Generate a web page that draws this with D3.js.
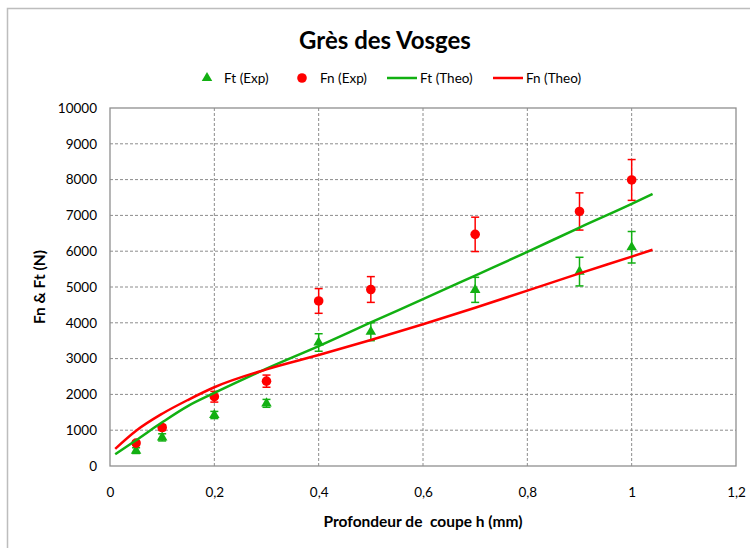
<!DOCTYPE html>
<html>
<head>
<meta charset="utf-8">
<script src="https://cdn.jsdelivr.net/npm/d3@7/dist/d3.min.js"></script>
<style>
  body { margin: 0; background: #fff; }
  svg { display: block; }
  text { font-family: Lato, "Open Sans", "Noto Sans", sans-serif; fill: #000; }
</style>
</head>
<body>
<svg id="chart" width="750" height="548"></svg>
<script>
// Experimental cutting forces (N) versus depth of cut h (mm), with error bars
const depthExp = [0.05, 0.1, 0.2, 0.3, 0.4, 0.5, 0.7, 0.9, 1.0];
const ftExp = [430, 800, 1425, 1750, 3450, 3750, 4920, 5430, 6110];
const ftErr = [80, 100, 100, 110, 245, 250, 350, 400, 440];
const fnExp = [640, 1075, 1935, 2370, 4610, 4930, 6470, 7110, 7990];
const fnErr = [60, 80, 150, 170, 345, 360, 480, 520, 570];

// Theoretical model curves
const depthTheo = [0.01, 0.05, 0.1, 0.15, 0.2, 0.3, 0.4, 0.5, 0.6, 0.7, 0.8, 0.9, 1.0, 1.04];
const ftTheo = [330, 720, 1220, 1680, 2040, 2720, 3350, 4010, 4660, 5320, 5980, 6660, 7320, 7600];
const fnTheo = [480, 985, 1460, 1850, 2200, 2700, 3100, 3520, 3960, 4420, 4900, 5380, 5850, 6040];

// Axis ticks
const xTicks = [0, 0.2, 0.4, 0.6, 0.8, 1, 1.2];
const yTicks = [0, 1000, 2000, 3000, 4000, 5000, 6000, 7000, 8000, 9000, 10000];

const GREEN = "#12b012";
const RED = "#ff0000";
const GRID = "#8c8c8c";

const svg = d3.select("#chart");

// outer chart frame
svg.append("rect")
  .attr("x", 7.5).attr("y", 8.5)
  .attr("width", 800).attr("height", 600)
  .attr("fill", "#fff")
  .attr("stroke", "#bdbdbd")
  .attr("stroke-width", 1.5);

const plot = { left: 110, right: 736, top: 108, bottom: 466 };

const x = d3.scaleLinear().domain([0, 1.2]).range([plot.left, plot.right]);
const y = d3.scaleLinear().domain([0, 10000]).range([plot.bottom, plot.top]);

const fmtX = d => d3.format("")(d).replace(".", ",");

// grid lines
const grid = svg.append("g");
grid.selectAll("line.v")
  .data(xTicks.filter(d => d > 0 && d < 1.2))
  .join("line")
  .attr("x1", d => x(d)).attr("x2", d => x(d))
  .attr("y1", plot.top).attr("y2", plot.bottom)
  .attr("stroke", GRID).attr("stroke-width", 1)
  .attr("stroke-dasharray", "3,2");
grid.selectAll("line.h")
  .data(yTicks.filter(d => d > 0 && d < 10000))
  .join("line")
  .attr("x1", plot.left).attr("x2", plot.right)
  .attr("y1", d => y(d)).attr("y2", d => y(d))
  .attr("stroke", GRID).attr("stroke-width", 1)
  .attr("stroke-dasharray", "3,2");

// plot area border
svg.append("rect")
  .attr("x", plot.left).attr("y", plot.top)
  .attr("width", plot.right - plot.left)
  .attr("height", plot.bottom - plot.top)
  .attr("fill", "none")
  .attr("stroke", "#8f8f8f")
  .attr("stroke-width", 1.3);

// axes
const xAxis = svg.append("g")
  .attr("transform", `translate(0,${plot.bottom})`)
  .call(d3.axisBottom(x).tickValues(xTicks).tickFormat(fmtX).tickSize(0).tickPadding(21));
const yAxis = svg.append("g")
  .attr("transform", `translate(${plot.left},0)`)
  .call(d3.axisLeft(y).tickValues(yTicks).tickFormat(d3.format("d")).tickSize(0).tickPadding(13));
[xAxis, yAxis].forEach(a => {
  a.select(".domain").remove();
  a.selectAll("text")
    .style("font-family", "Lato, 'Open Sans', sans-serif")
    .style("font-size", "13.5px")
    .attr("fill", "#000");
});

// axis titles
svg.append("text")
  .attr("x", 423).attr("y", 527)
  .attr("text-anchor", "middle")
  .style("font-size", "15.5px").style("font-weight", "bold")
  .style("white-space", "pre")
  .text("Profondeur de  coupe h (mm)");
svg.append("text")
  .attr("transform", "translate(45,287) rotate(-90)")
  .attr("text-anchor", "middle")
  .style("font-size", "15.5px").style("font-weight", "bold")
  .text("Fn & Ft (N)");

// title
svg.append("text")
  .attr("x", 385).attr("y", 49)
  .attr("text-anchor", "middle")
  .style("font-size", "24px").style("font-weight", "bold")
  .text("Grès des Vosges");

// experimental series with error bars
function errorBars(vals, errs, color) {
  const g = svg.append("g").attr("stroke", color).attr("stroke-width", 1.5);
  depthExp.forEach((h, i) => {
    const cx = x(h), y0 = y(vals[i] - errs[i]), y1 = y(vals[i] + errs[i]);
    g.append("line").attr("x1", cx).attr("x2", cx).attr("y1", y0).attr("y2", y1);
    g.append("line").attr("x1", cx - 4).attr("x2", cx + 4).attr("y1", y0).attr("y2", y0);
    g.append("line").attr("x1", cx - 4).attr("x2", cx + 4).attr("y1", y1).attr("y2", y1);
  });
}
errorBars(ftExp, ftErr, GREEN);
errorBars(fnExp, fnErr, RED);

const tri = d3.symbol().type(d3.symbolTriangle).size(48);
svg.append("g").selectAll("path")
  .data(depthExp.map((h, i) => [h, ftExp[i]]))
  .join("path")
  .attr("d", tri)
  .attr("transform", d => `translate(${x(d[0])},${y(d[1])})`)
  .attr("fill", GREEN);

svg.append("g").selectAll("circle")
  .data(depthExp.map((h, i) => [h, fnExp[i]]))
  .join("circle")
  .attr("cx", d => x(d[0])).attr("cy", d => y(d[1]))
  .attr("r", 4.8)
  .attr("fill", RED);

// theoretical curves
const line = d3.line().x(d => x(d[0])).y(d => y(d[1])).curve(d3.curveMonotoneX);
svg.append("path")
  .datum(depthTheo.map((h, i) => [h, ftTheo[i]]))
  .attr("d", line)
  .attr("fill", "none").attr("stroke", GREEN).attr("stroke-width", 2.5);
svg.append("path")
  .datum(depthTheo.map((h, i) => [h, fnTheo[i]]))
  .attr("d", line)
  .attr("fill", "none").attr("stroke", RED).attr("stroke-width", 2.5);

// legend
const legY = 78;
const leg = svg.append("g").style("font-size", "13.5px");
leg.append("path").attr("d", tri).attr("transform", `translate(207,${legY})`).attr("fill", GREEN);
leg.append("text").attr("x", 224).attr("y", legY + 4.5).text("Ft (Exp)");
leg.append("circle").attr("cx", 302).attr("cy", legY).attr("r", 4.8).attr("fill", RED);
leg.append("text").attr("x", 320).attr("y", legY + 4.5).text("Fn (Exp)");
leg.append("line").attr("x1", 387).attr("x2", 417).attr("y1", legY).attr("y2", legY)
  .attr("stroke", GREEN).attr("stroke-width", 2.5);
leg.append("text").attr("x", 420).attr("y", legY + 4.5).text("Ft (Theo)");
leg.append("line").attr("x1", 493).attr("x2", 523).attr("y1", legY).attr("y2", legY)
  .attr("stroke", RED).attr("stroke-width", 2.5);
leg.append("text").attr("x", 526).attr("y", legY + 4.5).text("Fn (Theo)");
</script>
</body>
</html>
